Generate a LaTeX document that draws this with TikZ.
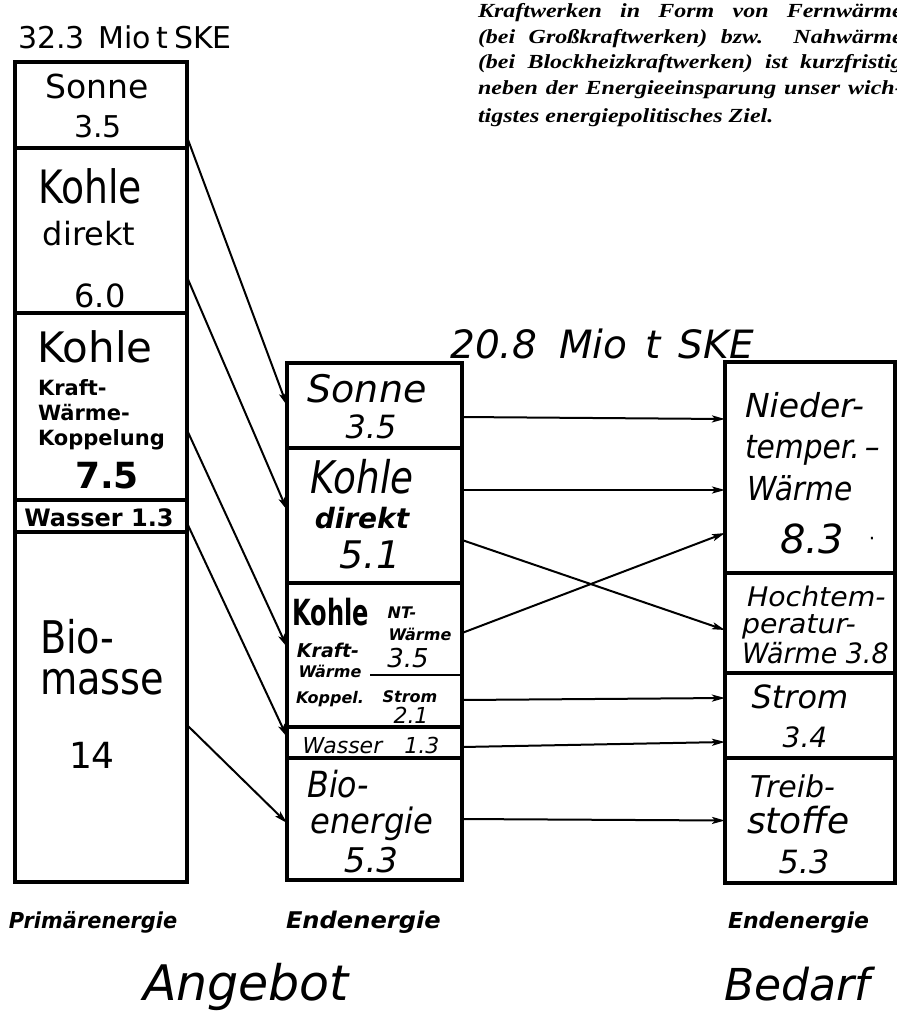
\documentclass[tikz,border=0pt]{standalone}
\usepackage{fontspec}
\setmainfont{DejaVu Sans}
\newfontfamily\parafont{Liberation Serif}
\usetikzlibrary{arrows.meta}
\newcommand\fsz[1]{\fontsize{#1}{#1}\selectfont}
\newcommand\sx[2]{\scalebox{#1}[1]{#2}}
\begin{document}
\begin{tikzpicture}[x=1pt,y=-1pt,
  seg/.style={draw, line width=3.4pt, inner sep=0pt, outer sep=0pt},
  arr/.style={line width=2pt, -{Stealth[length=13pt,width=7pt,inset=3pt]}},
  tc/.style={inner sep=0pt, outer sep=0pt, anchor=base},
  tl/.style={inner sep=0pt, outer sep=0pt, anchor=base west},
  para/.style={tl, font=\parafont\bfseries\itshape\fsz{20}},
]
\useasboundingbox (0,0) rectangle (897,1021);

% ---------- left column: Primaerenergie ----------
\node[seg, minimum width=172pt, minimum height=86pt]  (lSonne)  at (101,105)   {};
\node[seg, minimum width=172pt, minimum height=165pt] (lKohle)  at (101,230.5) {};
\node[seg, minimum width=172pt, minimum height=187pt] (lKWK)    at (101,406.5) {};
\node[seg, minimum width=172pt, minimum height=32pt]  (lWasser) at (101,516)   {};
\node[seg, minimum width=172pt, minimum height=350pt] (lBio)    at (101,707)   {};

% ---------- middle column: Endenergie (Angebot) ----------
\node[seg, minimum width=175pt, minimum height=85pt]  (mSonne)  at (374.5,405.5) {};
\node[seg, minimum width=175pt, minimum height=135pt] (mKohle)  at (374.5,515.5) {};
\node[seg, minimum width=175pt, minimum height=144pt] (mKWK)    at (374.5,655)   {};
\node[seg, minimum width=175pt, minimum height=31pt]  (mWasser) at (374.5,742.5) {};
\node[seg, minimum width=175pt, minimum height=122pt] (mBio)    at (374.5,819)   {};
\draw[line width=2.4pt] (370,675) -- (mKWK.east |- 0,675);

% ---------- right column: Endenergie (Bedarf) ----------
\node[seg, minimum width=170pt, minimum height=211pt] (rNT)    at (810,467.5) {};
\node[seg, minimum width=170pt, minimum height=100pt] (rHT)    at (810,623)   {};
\node[seg, minimum width=170pt, minimum height=85pt]  (rStrom) at (810,715.5) {};
\node[seg, minimum width=170pt, minimum height=125pt] (rTreib) at (810,820.5) {};

% ---------- arrows left -> middle ----------
\draw[arr] ([yshift=11pt]lSonne.south east) -- (mSonne.west);
\draw[arr] ([yshift=36pt]lKohle.south east) -- ([yshift=5.5pt]mKohle.west);
\draw[arr] ([yshift=-23.5pt]lKWK.east) -- ([yshift=8pt]mKWK.west);
\draw[arr] ([yshift=9pt]lBio.north east) -- ([yshift=5.5pt]mWasser.west);
\draw[arr] ([yshift=-18pt]lBio.east) -- ([yshift=-4pt]mBio.west);

% ---------- arrows middle -> right ----------
\draw[arr] ([yshift=-11.5pt]mSonne.east) -- ([yshift=48.5pt]rNT.west);
\draw[arr] ([yshift=25.5pt]mKohle.east) -- ([yshift=-22.5pt]rNT.west);
\draw[arr] ([yshift=-24.5pt]mKohle.east) -- ([yshift=-7pt]rHT.west);
\draw[arr] ([yshift=22pt]mKWK.east) -- ([yshift=-65.5pt]rNT.west);
\draw[arr] ([yshift=-45pt]mKWK.east) -- ([yshift=17.5pt]rStrom.west);
\draw[arr] ([yshift=-4.5pt]mWasser.east) -- ([yshift=-26.5pt]rStrom.west);
\draw[arr] (mBio.east) -- (rTreib.west);

% ---------- headings ----------
\node[tl, font=\fsz{30}] (hTop) at (18,48) {32.3\hspace{14pt}Mio\hspace{5pt}t\hspace{6pt}SKE};
\node[tc, font=\itshape\fsz{39}] (hMid) at (602,358) {20.8\hspace{22pt}Mio\hspace{18pt}t\hspace{18pt}SKE};

% ---------- texts left column ----------
\node[tc, font=\fsz{33}] (ls1) at (97,98) {Sonne};
\node[tc, font=\fsz{30}] (ls2) at (98,137) {3.5};
\node[tc, font=\fsz{46}] (lk1) at (90,203) {\sx{0.82}{Kohle}};
\node[tc, font=\fsz{32}] (lk2) at (89,245) {direkt};
\node[tc, font=\fsz{32}] (lk3) at (100,307) {6.0};
\node[tc, font=\fsz{42}] (lw1) at (95,362) {Kohle};
\node[tl, font=\bfseries\fsz{21}] (lw2) at (38,395) {Kraft-};
\node[tl, font=\bfseries\fsz{21}] (lw3) at (38,420) {Wärme-};
\node[tl, font=\bfseries\fsz{21}] (lw4) at (38,445) {Koppelung};
\node[tc, font=\bfseries\fsz{36}] (lw5) at (107,488) {7.5};
\node[tc, font=\bfseries\fsz{24}] (lwa) at (99,526) {Wasser 1.3};
\node[tl, font=\fsz{45}] (lb1) at (40,653) {\sx{0.85}{Bio-}};
\node[tl, font=\fsz{45}] (lb2) at (40,694) {\sx{0.85}{masse}};
\node[tc, font=\fsz{36}] (lb3) at (92,768) {14};

% ---------- texts middle column ----------
\node[tc, font=\itshape\fsz{38}] (ms1) at (367,402) {Sonne};
\node[tc, font=\itshape\fsz{32}] (ms2) at (371,438) {3.5};
\node[tc, font=\itshape\fsz{45}] (mk1) at (362,493) {\sx{0.83}{Kohle}};
\node[tc, font=\bfseries\itshape\fsz{28}] (mk2) at (362,528) {direkt};
\node[tc, font=\itshape\fsz{38}] (mk3) at (370,568) {5.1};
\node[tc, font=\bfseries\fsz{36}] (mw1) at (331,625) {\sx{0.67}{Kohle}};
\node[tc, font=\bfseries\itshape\fsz{19}] (mw2) at (328,657) {Kraft-};
\node[tc, font=\bfseries\itshape\fsz{16}] (mw3) at (330,677) {Wärme};
\node[tc, font=\bfseries\itshape\fsz{16}] (mw4) at (330,703) {Koppel.};
\node[tc, font=\bfseries\itshape\fsz{16}] (mn1) at (402,618) {NT-};
\node[tc, font=\bfseries\itshape\fsz{16}] (mn2) at (420,640) {Wärme};
\node[tc, font=\itshape\fsz{26}] (mn3) at (408,667) {3.5};
\node[tc, font=\bfseries\itshape\fsz{16}] (mn4) at (410,702) {Strom};
\node[tc, font=\itshape\fsz{22}] (mn5) at (411,723) {2.1};
\node[tc, font=\itshape\fsz{22}] (mwa) at (371,753) {Wasser\hspace{22pt}1.3};
\node[tc, font=\itshape\fsz{36}] (mb1) at (338,797) {\sx{0.88}{Bio-}};
\node[tc, font=\itshape\fsz{35}] (mb2) at (372,833) {\sx{0.92}{energie}};
\node[tc, font=\itshape\fsz{34}] (mb3) at (371,872) {5.3};

% ---------- texts right column ----------
\node[tl, font=\itshape\fsz{33}] (rn1) at (745,417) {Nieder-};
\node[tl, font=\itshape\fsz{33}] (rn2) at (745,458) {\sx{0.9}{temper.\,–}};
\node[tl, font=\itshape\fsz{33}] (rn3) at (747,500) {\sx{0.9}{Wärme}};
\node[tc, font=\itshape\fsz{40}] (rn4) at (812,553) {8.3};
\node[tc, font=\fsz{20}] (rn5) at (872,545) {·};
\node[tl, font=\itshape\fsz{27}] (rh1) at (747,606) {\sx{1.05}{Hochtem-}};
\node[tl, font=\itshape\fsz{27}] (rh2) at (742,633) {\sx{1.05}{peratur-}};
\node[tl, font=\itshape\fsz{28}] (rh3) at (742,663) {\sx{0.96}{Wärme 3.8}};
\node[tc, font=\itshape\fsz{32}] (rs1) at (800,708) {Strom};
\node[tc, font=\itshape\fsz{28}] (rs2) at (805,747) {3.4};
\node[tl, font=\itshape\fsz{30}] (rt1) at (750,797) {Treib-};
\node[tl, font=\itshape\fsz{36}] (rt2) at (747,833) {stoffe};
\node[tc, font=\itshape\fsz{32}] (rt3) at (804,873) {5.3};

% ---------- bottom labels ----------
\node[tl, font=\bfseries\itshape\fsz{22}] (bPrim) at (9,928) {\sx{0.95}{Primärenergie}};
\node[tl, font=\bfseries\itshape\fsz{23}] (bEnd1) at (286,928) {\sx{1.05}{Endenergie}};
\node[tl, font=\bfseries\itshape\fsz{22}] (bEnd2) at (728,928) {Endenergie};
\node[tl, font=\itshape\fsz{49}] (bAng) at (143,1000) {Angebot};
\node[tl, font=\itshape\fsz{44}] (bBed) at (724,1000) {Bedarf};

% ---------- paragraph (top right) ----------
\node[para] (p1) at (478,17)  {\sx{1.2}{\makebox[354pt][s]{Kraftwerken in Form von Fernwärme}}};
\node[para] (p2) at (478,43)  {\sx{1.2}{\makebox[354pt][s]{(bei Großkraftwerken) bzw. Nahwärme}}};
\node[para] (p3) at (478,68)  {\sx{1.2}{\makebox[354pt][s]{(bei Blockheizkraftwerken) ist kurzfristig}}};
\node[para] (p4) at (478,94)  {\sx{1.2}{\makebox[354pt][s]{neben der Energieeinsparung unser wich-}}};
\node[para] (p5) at (478,122) {\sx{1.2}{tigstes energiepolitisches Ziel.}};
\end{tikzpicture}
\end{document}
